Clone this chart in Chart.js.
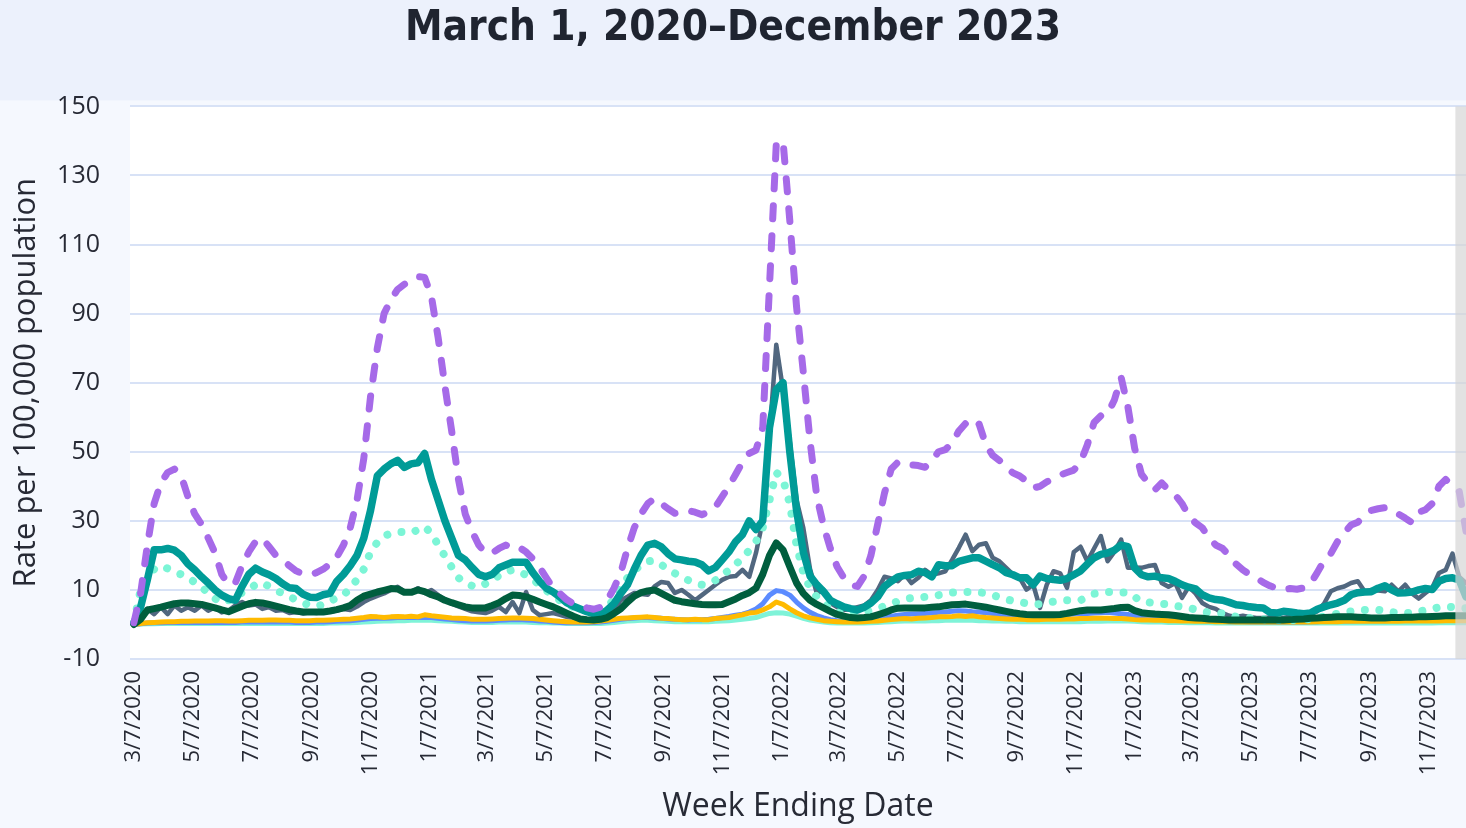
<!DOCTYPE html>
<html>
<head>
<meta charset="utf-8">
<script src="https://cdn.jsdelivr.net/npm/chart.js@4.4.0/dist/chart.umd.min.js"></script>
<style>
  html, body { margin: 0; padding: 0; background: #f4f7fe; }
  canvas { display: block; }
</style>
</head>
<body>
<canvas id="chart" width="1466" height="828"></canvas>
<script>
// --- chart text ---
const titleText = 'March 1, 2020\u2013December 2023';
const xTitle = 'Week Ending Date';
const yTitle = 'Rate per 100,000 population';

// --- time frame (weekly points, first one is week ending 3/7/2020) ---
const firstWeekEnding = '3/7/2020';
const axisStart = '3/3/2020';
const axisEnd = '12/16/2023';
const shadedFrom = '12/5/2023';

const tickLabels = ['3/7/2020', '5/7/2020', '7/7/2020', '9/7/2020', '11/7/2020',
  '1/7/2021', '3/7/2021', '5/7/2021', '7/7/2021', '9/7/2021', '11/7/2021',
  '1/7/2022', '3/7/2022', '5/7/2022', '7/7/2022', '9/7/2022', '11/7/2022',
  '1/7/2023', '3/7/2023', '5/7/2023', '7/7/2023', '9/7/2023', '11/7/2023'];

const yMin = -10, yMax = 150, yStep = 20;

// --- series (weekly rates) ---
const purpleDashed = [
  0.5, 9, 23, 35, 41, 44, 45, 43, 37, 32,
  29, 25, 20.7, 14.5, 11.5, 12, 17, 21, 24, 25,
  22.5, 20, 18.7, 17, 15.5, 14.6, 14.4, 15, 16, 17.5,
  19.5, 23, 28, 36, 48, 66, 80, 90, 94, 97,
  98.5, 99.5, 100.7, 100.5, 95, 83, 69, 56, 42, 32,
  27, 23, 20.7, 20.7, 22, 23, 22, 22.3, 21, 19,
  16.5, 13.5, 10.5, 9, 7.2, 6, 5.4, 4.8, 4.4, 5,
  7, 10.5, 15, 22, 28, 32, 35, 36.5, 35, 33.5,
  32.2, 32.5, 33, 32.5, 31.8, 32.5, 34, 37, 40, 43.5,
  47, 49.5, 50.5, 57, 98, 139, 140, 117, 92, 73,
  53, 37, 28.5, 22, 16.7, 13.5, 11.5, 11, 14, 20,
  29, 38, 45, 47, 46.5, 46.2, 46, 45.5, 47.5, 50,
  50.6, 52.5, 56, 58.2, 59.5, 58, 52, 49, 47.5, 45.5,
  43.9, 43, 41.5, 39.5, 40, 41.3, 42.3, 43.3, 44, 44.7,
  47, 52, 58.5, 60.4, 61, 65, 71.5, 63, 51, 43.5,
  41, 39, 41, 39, 37.5, 35, 31.5, 29.4, 28, 25,
  23, 22, 20, 17.5, 15.8, 14.5, 13.5, 12.2, 11.2, 10.5,
  10, 10.4, 10.2, 10.6, 11.8, 15, 18.5, 20.5, 24, 26.5,
  28.8, 29.6, 31.5, 33, 33.5, 33.8, 33.2, 32, 30.8, 29.5,
  32.5, 33.2, 35, 40, 42, 40, 38.5, 27
];

const tealSolid = [
  0.4, 5, 13, 21.6, 21.6, 22, 21.5, 20, 17.5, 15.8,
  13.8, 12, 10, 8.5, 7.5, 7, 11, 14.5, 16.3, 15.2,
  14.4, 13.3, 11.8, 10.6, 10.4, 8.8, 7.9, 7.8, 8.6, 9,
  12.5, 14.5, 17, 20, 25, 33, 43, 45, 46.5, 47.5,
  45.5, 46.5, 46.8, 49.5, 42, 36, 30, 25, 20, 18.7,
  16.5, 14.5, 13.8, 14.5, 16.4, 17.2, 18, 18, 18, 15,
  12.5, 10.5, 9.4, 8, 6.3, 5.3, 4.5, 3.7, 3.1, 2.8,
  4.2, 6, 9, 11.5, 16, 20, 23, 23.5, 22.5, 20.5,
  19, 18.7, 18.3, 18.1, 17.3, 15.5, 16.5, 18.7, 21, 24,
  26, 30, 27.5, 30, 57, 68, 70, 50, 33, 21,
  14, 11.5, 9.5, 7, 6, 5.1, 4.6, 4.2, 5, 6.2,
  8, 11, 12.5, 13.8, 14.2, 14.4, 15.4, 15, 13.8, 17.3,
  17, 17, 18.3, 18.8, 19.3, 19.3, 18.3, 17.3, 16.4, 15,
  14.4, 13.5, 13.5, 11.5, 14, 13.3, 13, 12.8, 13.3, 14.4,
  15.5, 17.5, 19.3, 20.3, 20.7, 21.5, 23, 22.5, 16.4, 14.4,
  13.8, 14, 13.5, 13.3, 12.5, 11.5, 10.8, 10.3, 8.6, 7.7,
  7.2, 7, 6.4, 5.7, 5.5, 5.1, 4.9, 4.8, 3.5, 3.3,
  3.8, 3.6, 3.3, 3.1, 3.3, 4.4, 5.1, 5.7, 6.2, 7,
  8.6, 9.2, 9.4, 9.5, 10.5, 11.2, 10, 9.1, 9.2, 9.4,
  10, 10.4, 10.1, 12.5, 13.3, 13.5, 12.9, 8
];

const slateSolid = [
  0, 2, 4.5, 3, 5, 3, 5.5, 4, 5, 4,
  5.5, 4, 5, 3.5, 4, 5.5, 6.5, 5.5, 5.8, 4.5,
  5, 4, 4.2, 3.3, 3.6, 3.2, 3.5, 3.3, 3.6, 3.7,
  4, 4.5, 4.2, 5.2, 6.5, 7.5, 8.3, 9, 10, 10.9,
  9.5, 9.3, 10.5, 9.1, 10, 8.5, 7.2, 6, 5.2, 4.5,
  3.8, 3.5, 3.3, 4, 5.1, 3.6, 6.5, 3.3, 9.4, 4.2,
  2.7, 3, 3.3, 2.8, 2.2, 2, 1.6, 1.3, 1.3, 1.5,
  2.5, 4.2, 7, 8, 9.1, 8.8, 8.6, 11, 12.3, 12,
  9.1, 10, 8.6, 7, 8.5, 10, 11.5, 12.9, 13.8, 14,
  15.8, 13.8, 20.7, 30, 55, 81, 68, 53, 36, 28,
  16, 9, 10, 6.2, 5, 4.2, 4.5, 5, 5.5, 7,
  10, 13.8, 13.3, 12.5, 14.5, 12, 13.5, 15.8, 14.4, 14.8,
  15.4, 18.7, 22.2, 26, 21.2, 23.1, 23.5, 19.3, 18.3, 16.4,
  14.5, 13.5, 10.1, 11.5, 4.8, 11.5, 15.4, 14.8, 10.6, 21,
  22.5, 18.3, 22, 25.6, 18.3, 21, 24.6, 16.4, 16.5, 16.4,
  16.9, 17.2, 12, 10.9, 12, 7.7, 10.9, 9, 6.2, 5.1,
  4.5, 3.3, 2.5, 2.2, 2.5, 2.2, 1.9, 1.9, 2, 2,
  1.9, 2.3, 2.5, 2.9, 3.2, 3.8, 6, 9.6, 10.5, 11,
  12, 12.5, 9.6, 10, 9.8, 9.6, 11.5, 9.6, 11.5, 9,
  7.5, 9.1, 10.6, 14.9, 15.8, 20.5, 13.8, 12
];

const darkGreenSolid = [
  0, 1.5, 4.2, 4.6, 5, 5.5, 6, 6.2, 6.2, 6,
  5.8, 5.3, 4.8, 4.2, 3.7, 4.5, 5.3, 6, 6.4, 6.2,
  5.8, 5.3, 4.8, 4.3, 3.9, 3.6, 3.6, 3.6, 3.6, 3.9,
  4.3, 4.8, 5.5, 7, 8.2, 8.8, 9.4, 9.9, 10.4, 10.3,
  9.3, 9.3, 10, 9.5, 8.6, 8, 7, 6.3, 5.7, 5.1,
  4.8, 4.8, 4.8, 5.5, 6.3, 7.5, 8.5, 8.4, 8, 7.3,
  6.5, 5.8, 5.1, 4.2, 3.3, 2.4, 1.6, 1.4, 1.3, 1.5,
  2, 3.2, 4.5, 6.5, 8.2, 9.2, 9.7, 10, 9, 8,
  7, 6.6, 6.3, 6, 5.8, 5.7, 5.7, 5.8, 6.6, 7.4,
  8.4, 9.2, 10.5, 14.5, 20, 23.6, 21.6, 16.7, 12, 9,
  7, 5.8, 4.8, 3.8, 2.9, 2.4, 2, 1.9, 2, 2.2,
  2.8, 3.4, 4.2, 4.7, 4.8, 4.8, 4.8, 4.8, 5, 5.1,
  5.4, 5.7, 5.8, 5.9, 5.6, 5.3, 5, 4.6, 4.2, 3.8,
  3.4, 3.1, 2.9, 2.8, 2.8, 2.8, 2.8, 2.9, 3.2, 3.6,
  4, 4.2, 4.2, 4.2, 4.4, 4.6, 4.9, 5, 4, 3.4,
  3.2, 3, 2.9, 2.8, 2.6, 2.3, 2, 1.9, 1.8, 1.6,
  1.5, 1.4, 1.3, 1.3, 1.3, 1.3, 1.3, 1.3, 1.3, 1.3,
  1.3, 1.4, 1.5, 1.6, 1.8, 1.9, 2, 2.1, 2.2, 2.2,
  2.2, 2.1, 2, 1.9, 1.9, 1.9, 2, 2, 2.1, 2.1,
  2.2, 2.2, 2.3, 2.4, 2.5, 2.5, 2.5, 2.5
];

const aquaDotted = [
  0.5, 10, 13, 16, 17, 16.2, 15.2, 14.5, 13.6, 12.2,
  10.8, 9.2, 7.5, 6.3, 7, 8.2, 9.2, 10.3, 11.5, 12.1,
  11, 9.9, 9, 8.1, 7.1, 6.2, 5.6, 5.2, 5.8, 6.7,
  7.7, 8.5, 10.5, 13, 16, 21, 23.8, 25.6, 26.4, 26.8,
  26.7, 26.5, 27.4, 28.3, 26.4, 23, 19.8, 16.6, 13.5, 12.1,
  11.2, 10.8, 11.8, 12.8, 14.2, 15.3, 15.8, 15.3, 14.3, 13,
  11.5, 9.8, 8.3, 7, 5.8, 5, 4.5, 4, 3.6, 4,
  4.8, 7.5, 11, 13.5, 15.8, 17, 18.3, 18.5, 17.3, 16,
  14.8, 13.9, 12.8, 12, 11.5, 11.8, 12.8, 14.6, 15.6, 17.5,
  19, 21.5, 24, 28, 36, 44, 42, 35, 23, 15,
  10.5, 8, 6.2, 4.8, 3.6, 3.4, 3.3, 3.4, 3.6, 4.1,
  4.6, 5.3, 6, 6.7, 7.2, 7.7, 7.8, 8, 8.2, 8.5,
  8.8, 9.2, 9.4, 9.4, 9.4, 9.3, 9.1, 8.5, 7.9, 7.3,
  6.8, 6.5, 6.1, 5.8, 5.9, 6.3, 6.6, 6.9, 7, 7,
  7, 8, 8.9, 9.2, 9.4, 9.4, 9.3, 9.2, 8, 6.6,
  6.4, 6.2, 6, 5.8, 5.4, 5.1, 4.8, 4.3, 3.7, 3.5,
  3.4, 3.2, 2.7, 2.2, 2.1, 1.9, 1.7, 1.5, 1.3, 1.3,
  1.3, 1.3, 1.3, 1.4, 1.6, 1.9, 2.3, 2.7, 3.1, 3.5,
  3.8, 4, 4.2, 4.2, 4.2, 4, 3.6, 3.3, 3.3, 3.3,
  3.7, 4.1, 4.5, 5, 5.1, 5, 4.8, 4.7
];

const blueSolid = [
  0, 0.2, 0.4, 0.5, 0.5, 0.6, 0.6, 0.6, 0.6, 0.6,
  0.6, 0.6, 0.6, 0.6, 0.6, 0.6, 0.7, 0.7, 0.7, 0.7,
  0.7, 0.7, 0.7, 0.7, 0.6, 0.6, 0.6, 0.7, 0.7, 0.8,
  0.9, 1, 1.1, 1.3, 1.5, 1.7, 1.8, 1.8, 1.9, 2,
  2, 2, 2, 2.1, 2, 1.8, 1.6, 1.4, 1.2, 1.1,
  1, 1, 1, 1.1, 1.2, 1.3, 1.4, 1.4, 1.3, 1.2,
  1, 0.9, 0.7, 0.6, 0.5, 0.5, 0.5, 0.5, 0.6, 0.7,
  0.9, 1.2, 1.5, 1.7, 1.9, 2, 2, 1.9, 1.8, 1.6,
  1.5, 1.4, 1.3, 1.4, 1.4, 1.5, 1.7, 2, 2.3, 2.7,
  3, 3.6, 4.5, 6, 8.5, 9.8, 9.5, 8.5, 6.5, 4.8,
  3.5, 2.6, 1.9, 1.4, 1.1, 1, 1, 1, 1.1, 1.3,
  1.6, 2, 2.4, 2.7, 2.9, 3, 3.1, 3.2, 3.3, 3.5,
  3.6, 3.8, 4, 3.9, 3.7, 3.6, 3.4, 3.2, 2.9, 2.6,
  2.4, 2.3, 2.2, 2.2, 2.3, 2.4, 2.5, 2.6, 2.8, 3,
  3.1, 3.2, 3.3, 3.4, 3.5, 3.3, 3.1, 2.9, 2.4, 2,
  1.9, 1.8, 1.7, 1.6, 1.5, 1.4, 1.3, 1.2, 1.1, 1,
  0.9, 0.9, 0.8, 0.8, 0.8, 0.7, 0.7, 0.7, 0.7, 0.7,
  0.7, 0.7, 0.7, 0.7, 0.8, 0.8, 0.9, 0.9, 1, 1,
  1, 1.1, 1.1, 1.1, 1.1, 1.1, 1.2, 1.2, 1.2, 1.2,
  1.3, 1.3, 1.3, 1.4, 1.4, 1.5, 1.5, 1.5
];

const orangeSolid = [
  0, 0.3, 0.5, 0.6, 0.7, 0.8, 0.8, 0.9, 0.9, 1,
  1, 1, 1.1, 1.1, 1, 1, 1.1, 1.2, 1.2, 1.2,
  1.3, 1.3, 1.2, 1.2, 1.1, 1.1, 1.1, 1.2, 1.2, 1.3,
  1.4, 1.5, 1.6, 1.8, 2, 2.3, 2.2, 2, 2.2, 2.3,
  2.2, 2.4, 2.2, 2.8, 2.5, 2.3, 2.1, 1.9, 1.8, 1.7,
  1.5, 1.5, 1.5, 1.6, 1.7, 1.8, 1.9, 1.9, 1.8, 1.7,
  1.5, 1.3, 1.1, 0.9, 0.8, 0.7, 0.7, 0.7, 0.8, 1,
  1.2, 1.5, 1.8, 1.9, 2, 2.1, 2.2, 2, 1.8, 1.7,
  1.5, 1.4, 1.4, 1.5, 1.4, 1.4, 1.7, 1.9, 2, 2.4,
  2.8, 3.3, 3.5, 4.2, 5.1, 6.5, 5.8, 4.5, 3.4, 2.5,
  1.9, 1.5, 1.1, 0.9, 0.8, 0.7, 0.7, 0.7, 0.8, 0.9,
  1, 1.2, 1.4, 1.6, 1.7, 1.6, 1.8, 1.9, 2, 2.2,
  2.2, 2.3, 2.5, 2.3, 2.5, 2.2, 2, 1.9, 1.7, 1.6,
  1.5, 1.5, 1.4, 1.4, 1.4, 1.5, 1.5, 1.5, 1.6, 1.6,
  1.7, 1.7, 1.8, 1.8, 1.8, 1.7, 1.7, 1.6, 1.4, 1.3,
  1.3, 1.2, 1.2, 1.1, 1.1, 1, 1, 0.9, 0.9, 0.9,
  0.8, 0.8, 0.8, 0.7, 0.7, 0.7, 0.7, 0.7, 0.7, 0.7,
  0.7, 0.7, 0.7, 0.7, 0.7, 0.8, 0.8, 0.8, 0.8, 0.9,
  0.9, 0.9, 0.9, 0.9, 0.9, 0.9, 0.9, 0.9, 1, 1,
  1, 1, 1, 1, 1.1, 1.1, 1.1, 1.1
];

const mintSolid = [
  0, 0.1, 0.2, 0.2, 0.3, 0.3, 0.3, 0.3, 0.3, 0.3,
  0.3, 0.3, 0.3, 0.3, 0.3, 0.3, 0.3, 0.3, 0.3, 0.3,
  0.3, 0.3, 0.3, 0.3, 0.3, 0.3, 0.3, 0.3, 0.3, 0.4,
  0.4, 0.5, 0.5, 0.6, 0.7, 0.8, 0.9, 1, 1, 1.1,
  1.1, 1.2, 1.2, 1.3, 1.2, 1.1, 1, 0.9, 0.8, 0.7,
  0.6, 0.6, 0.6, 0.6, 0.7, 0.7, 0.7, 0.7, 0.7, 0.6,
  0.5, 0.5, 0.4, 0.4, 0.3, 0.3, 0.3, 0.3, 0.3, 0.3,
  0.4, 0.6, 0.8, 1, 1.1, 1.2, 1.2, 1.1, 1, 0.9,
  0.8, 0.8, 0.8, 0.8, 0.8, 0.8, 0.9, 1, 1.1, 1.3,
  1.5, 1.7, 2, 2.6, 3.2, 3.4, 3.3, 3, 2.4, 1.8,
  1.3, 1, 0.7, 0.5, 0.4, 0.4, 0.4, 0.4, 0.4, 0.5,
  0.6, 0.7, 0.8, 0.9, 1, 1, 1, 1, 1.1, 1.1,
  1.2, 1.2, 1.2, 1.2, 1.2, 1.1, 1.1, 1, 1, 0.9,
  0.9, 0.8, 0.8, 0.8, 0.8, 0.8, 0.8, 0.8, 0.8, 0.8,
  0.8, 0.9, 0.9, 0.9, 1, 1, 1, 1, 0.9, 0.8,
  0.7, 0.7, 0.7, 0.6, 0.6, 0.6, 0.5, 0.5, 0.5, 0.5,
  0.4, 0.4, 0.4, 0.4, 0.4, 0.4, 0.4, 0.4, 0.4, 0.4,
  0.4, 0.4, 0.4, 0.4, 0.4, 0.4, 0.4, 0.4, 0.4, 0.4,
  0.4, 0.4, 0.4, 0.4, 0.4, 0.4, 0.4, 0.4, 0.4, 0.4,
  0.4, 0.4, 0.4, 0.5, 0.5, 0.5, 0.5, 0.5
];

// --- helpers ---
function dayOffset(label) {
  const [m, d, y] = label.split('/').map(Number);
  const [m0, d0, y0] = firstWeekEnding.split('/').map(Number);
  return Math.round((Date.UTC(y, m - 1, d) - Date.UTC(y0, m0 - 1, d0)) / 86400000);
}

function weekly(values) {
  return values.map((v, i) => ({ x: 7 * i, y: v }));
}

const textColor = '#272a35';
const sans = "'Open Sans', sans-serif";

function line(label, values, color, width, order, extra) {
  return Object.assign({
    label: label, data: weekly(values), borderColor: color, backgroundColor: color,
    borderWidth: width, pointRadius: 0, tension: 0, fill: false, order: order,
    borderCapStyle: 'round', borderJoinStyle: 'round'
  }, extra || {});
}

// page background and white plot area
const backdrop = {
  id: 'backdrop',
  beforeDraw(chart) {
    const { ctx, chartArea: a, width, height } = chart;
    ctx.save();
    ctx.fillStyle = '#f5f8fe';
    ctx.fillRect(0, 0, width, height);
    ctx.fillStyle = '#ecf1fc';
    ctx.fillRect(0, 0, width, a.top - 6);
    ctx.fillStyle = '#ffffff';
    ctx.fillRect(a.left, a.top, a.right - a.left, a.bottom - a.top);
    ctx.restore();
  }
};

// grey band over the most recent weeks
const shading = {
  id: 'shading',
  afterDatasetsDraw(chart) {
    const { ctx, chartArea: a, scales } = chart;
    const x0 = scales.x.getPixelForValue(dayOffset(shadedFrom));
    ctx.save();
    ctx.fillStyle = 'rgba(214, 214, 214, 0.7)';
    ctx.fillRect(x0, a.top, a.right - x0, a.bottom - a.top);
    ctx.restore();
  }
};

new Chart(document.getElementById('chart'), {
  type: 'line',
  data: {
    datasets: [
      line('Purple dashed', purpleDashed, '#a66ae8', 7, 1, { borderDash: [13, 17] }),
      line('Dark green', darkGreenSolid, '#005e3e', 7, 2),
      line('Teal', tealSolid, '#009b97', 7.5, 3),
      line('Aqua dotted', aquaDotted, '#7cf5d6', 8, 4, { borderDash: [0.001, 14.5] }),
      line('Slate', slateSolid, '#51677f', 4.5, 5),
      line('Orange', orangeSolid, '#ffba00', 5, 6),
      line('Blue', blueSolid, '#5b8bff', 5, 7),
      line('Mint', mintSolid, '#7ff3d8', 5, 8)
    ]
  },
  options: {
    responsive: false,
    animation: false,
    events: [],
    layout: { padding: 0 },
    plugins: {
      legend: { display: false },
      tooltip: { enabled: false },
      title: {
        display: true,
        text: titleText,
        color: '#1f2430',
        font: { family: "'DejaVu Sans Condensed', sans-serif", size: 42, weight: 'bold' },
        padding: { top: 4, bottom: 52 }
      }
    },
    scales: {
      x: {
        type: 'linear',
        min: dayOffset(axisStart),
        max: dayOffset(axisEnd),
        afterBuildTicks: s => { s.ticks = tickLabels.map(l => ({ value: dayOffset(l) })); },
        afterFit: s => { s.height = 169; },
        ticks: {
          autoSkip: false, minRotation: 90, maxRotation: 90, padding: 4,
          color: textColor, font: { family: sans, size: 22 },
          callback: (v, i) => tickLabels[i]
        },
        grid: { display: false },
        border: { display: false },
        title: {
          display: true, text: xTitle, color: textColor,
          font: { family: sans, size: 32 },
          padding: { top: 0, bottom: 2 }
        }
      },
      y: {
        min: yMin,
        max: yMax,
        afterFit: s => { s.width = 130; },
        ticks: { stepSize: yStep, padding: 30, color: textColor, font: { family: sans, size: 25 } },
        grid: { color: '#d8e2f6', lineWidth: 2, drawTicks: false },
        border: { display: false },
        title: {
          display: true, text: yTitle, color: textColor,
          font: { family: sans, size: 31 },
          padding: { top: 8, bottom: 0 }
        }
      }
    }
  },
  plugins: [backdrop, shading]
});
</script>
</body>
</html>
